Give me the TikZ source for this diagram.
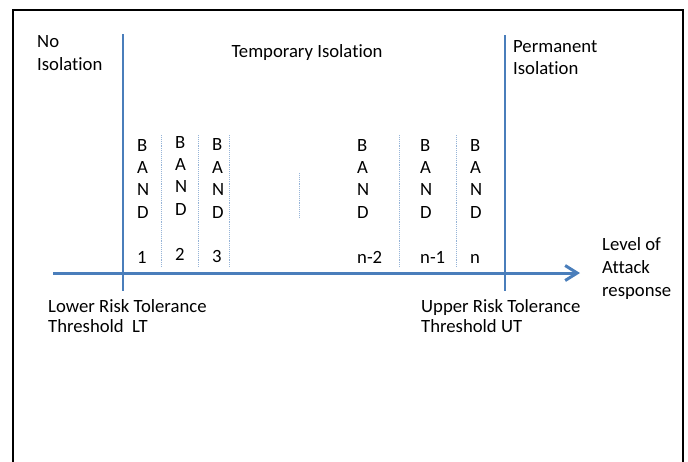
\documentclass[tikz,border=0pt]{standalone}
\usepackage{fontspec}
\setmainfont{Carlito}[Ligatures=NoCommon]
\usetikzlibrary{positioning,arrows.meta}
\definecolor{AxisBlue}{HTML}{4A7EBB}
\definecolor{BandBlue}{HTML}{95B3D7}

\begin{document}
\begin{tikzpicture}[x=1pt, y=-1pt, font=\fontsize{18.7}{22.4}\selectfont,
    caption/.style={inner sep=0pt, align=left, anchor=west},
    band/.style={inner sep=0pt, align=left, anchor=west},
    divider/.style={BandBlue, line width=0.9pt, densely dotted},
    threshold/.style={AxisBlue, line width=1.6pt},
    axis/.style={AxisBlue, line width=3pt, -{Straight Barb[length=12pt,width=15pt]}}]
    \useasboundingbox (0,0) rectangle (688,461);
    \draw[line width=2pt] (13,475) -- (13,10) -- (683,10) -- (683,475);

    % regions
    \node[caption] (noiso) at (37,53) {No\\Isolation};
    \node[inner sep=0pt, anchor=base] (tempiso) at (307,57) {Temporary Isolation};
    \node[caption, font=\fontsize{18.7}{22}\selectfont] (permiso) at (513,58) {Permanent\\Isolation};

    % thresholds and axis
    \coordinate (LTtop) at (123,34);
    \coordinate (LTbot) at (123,291);
    \coordinate (UTtop) at (505,35);
    \coordinate (UTbot) at (505,291);
    \draw[threshold] (LTtop) -- (LTbot);
    \draw[threshold] (UTtop) -- (UTbot);
    \coordinate (axisstart) at (53,273);
    \coordinate (axisend) at (580,273);
    \draw[axis] (axisstart) -- (axisend);

    % bands
    \foreach \name/\x/\y/\num in {b1/137/201/1, b2/175/198/2, b3/212/201/3,
        bn2/357/201/n-2, bn1/420/201/n-1, bn/470/201/n} {
      \node[band] (\name) at (\x,\y) {B\\A\\N\\D\\[22.4pt]\num};
    }
    \foreach \x in {161,198,229,399,456}
      \draw[divider] (\x,135) -- (\x,267);
    \draw[divider] (299,173) -- (299,217);

    \node[caption, font=\fontsize{18.7}{23}\selectfont] (level) at (602,269)
      {Level of\\Attack\\response};
    \node[caption, font=\fontsize{18.7}{20}\selectfont] (lower) at (48,316.5)
      {Lower Risk Tolerance\\Threshold~ LT};
    \node[caption, font=\fontsize{18.7}{20}\selectfont] (upper) at (421,316.5)
      {Upper Risk Tolerance\\Threshold UT};
  \end{tikzpicture}
\end{document}
